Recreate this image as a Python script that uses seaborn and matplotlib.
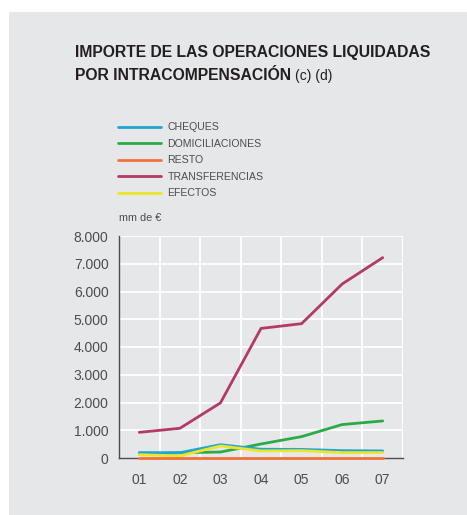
import matplotlib
matplotlib.use("Agg")
import matplotlib.pyplot as plt
from matplotlib.patches import Rectangle
import seaborn as sns
import pandas as pd

years = ["01", "02", "03", "04", "05", "06", "07"]
cheques = [195, 190, 480, 315, 310, 265, 255]
domiciliaciones = [135, 190, 215, 505, 770, 1205, 1335]
resto = [5, 5, 5, 5, 5, 5, 5]
transferencias = [925, 1070, 1985, 4670, 4840, 6270, 7220]
efectos = [120, 75, 435, 255, 265, 195, 195]

series = ["CHEQUES", "DOMICILIACIONES", "RESTO", "TRANSFERENCIAS", "EFECTOS"]
colors = ["#1fa6d6", "#2bab47", "#f2733a", "#b23a64", "#ece52a"]
values = [cheques, domiciliaciones, resto, transferencias, efectos]

rows = []
for name, vals in zip(series, values):
    for i, v in enumerate(vals):
        rows.append({"pos": i + 1, "serie": name, "valor": v})
df = pd.DataFrame(rows)

sns.set_theme(style="white")
plt.rcParams["font.family"] = ["Liberation Sans", "DejaVu Sans"]

bg = "#e6e7e8"
fig = plt.figure(figsize=(4.67, 5.15), dpi=100)
fig.patch.set_facecolor("white")
fig.patches.append(Rectangle((9 / 467, 0), 1, (515 - 12) / 515, transform=fig.transFigure,
                             facecolor=bg, edgecolor="none", zorder=-10))

ax = fig.add_axes([119 / 467, 57 / 515, 284 / 467, 222 / 515])
ax.set_facecolor(bg)
ax.set_zorder(1)

# draw order so the yellow series sits over the blue one and orange on the baseline
order = ["TRANSFERENCIAS", "DOMICILIACIONES", "CHEQUES", "EFECTOS", "RESTO"]
palette = dict(zip(series, colors))
for name in order:
    sns.lineplot(data=df[df["serie"] == name], x="pos", y="valor", color=palette[name],
                 lw=2.0, ax=ax, legend=False)
for ln in ax.get_lines():
    ln.set_zorder(5)
    ln.set_clip_on(False)

ax.set_xlim(0.5, 7.5)
ax.set_ylim(0, 8000)
ax.set_yticks(range(0, 8001, 1000))
ax.set_yticklabels(["0"] + [f"{v // 1000}.000" for v in range(1000, 8001, 1000)])
ax.set_xticks(range(1, 8))
ax.set_xticklabels(years)
ax.set_xlabel("")
ax.set_ylabel("")

# white grid: horizontal at each thousand, vertical between years
for y in range(1000, 8001, 1000):
    ax.axhline(y, color="white", lw=1.3, zorder=1)
for x in [i + 0.5 for i in range(1, 8)]:
    ax.axvline(x, color="white", lw=1.3, zorder=1)

for s in ["top", "right"]:
    ax.spines[s].set_visible(False)
for s in ["left", "bottom"]:
    ax.spines[s].set_color("#4d4d4f")
    ax.spines[s].set_linewidth(1.0)
    ax.spines[s].set_zorder(4)

ax.tick_params(axis="both", length=0, labelsize=10, labelcolor="#4d4d4f")
ax.tick_params(axis="y", pad=7.5)
ax.tick_params(axis="x", pad=11)

fig.text(75 / 467, 1 - 52 / 515, "IMPORTE DE LAS OPERACIONES LIQUIDADAS",
         fontsize=11.3, fontweight="bold", color="#231f20", va="center", ha="left")
t2 = fig.text(75 / 467, 1 - 76 / 515, "POR INTRACOMPENSACIÓN", fontsize=11.3,
              fontweight="bold", color="#231f20", va="center", ha="left")
fig.canvas.draw()
bb = t2.get_window_extent()
fig.text(bb.x1 / fig.bbox.width + 4 / 467, 1 - 76 / 515, "(c) (d)", fontsize=10,
         color="#231f20", va="center", ha="left")

fig.text(119 / 467, 1 - 218 / 515, "mm de €", fontsize=7.8, color="#4d4d4f",
         va="center", ha="left")

handles = [plt.Line2D([], [], color=c, lw=2) for c in colors]
leg = fig.legend(handles, series, loc="upper left",
                 bbox_to_anchor=(113 / 467, 1 - 117 / 515), frameon=False,
                 fontsize=7.6, handlelength=4.0, handletextpad=0.65,
                 labelspacing=0.62, borderpad=0)
for t in leg.get_texts():
    t.set_color("#4d4d4f")

fig.savefig("out.png", dpi=100, facecolor=fig.get_facecolor())
